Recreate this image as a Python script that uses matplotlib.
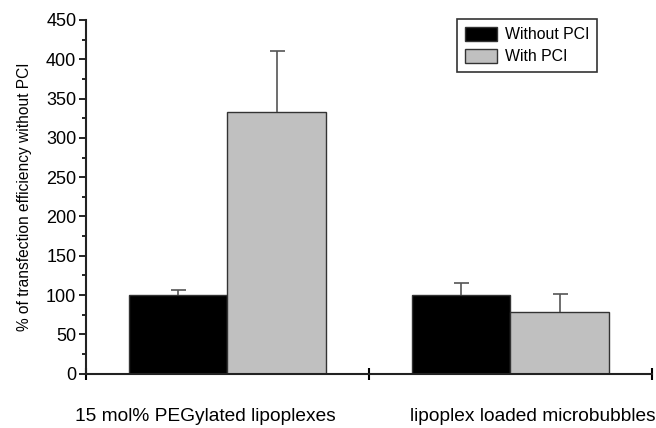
import numpy as np
import matplotlib.pyplot as plt
from matplotlib.ticker import MultipleLocator

plt.rcParams['font.family'] = ['Liberation Sans', 'DejaVu Sans']

# data
groups = ["15 mol% PEGylated lipoplexes", "lipoplex loaded microbubbles"]
without_pci = [100, 100]
without_err = [6, 16]
with_pci = [333, 79]
with_err = [77, 23]
series_names = ["Without PCI", "With PCI"]

fig = plt.figure(figsize=(6.56, 4.28), dpi=100)
ax = fig.add_axes([0.1311, 0.1269, 0.8623, 0.8264])

x = np.arange(len(groups))
w = 0.349
err_kw = dict(ecolor="#555555", elinewidth=1.2, capsize=5.4, capthick=1.2)

b1 = ax.bar(x - w / 2, without_pci, w, color="black", edgecolor="#333333", linewidth=1,
            yerr=[np.zeros(2), without_err], error_kw=err_kw, label=series_names[0])
b2 = ax.bar(x + w / 2, with_pci, w, color="#c0c0c0", edgecolor="#333333", linewidth=1,
            yerr=[np.zeros(2), with_err], error_kw=err_kw, label=series_names[1])
# only the upper cap is drawn in the original
for b in (b1, b2):
    caps = b.errorbar.lines[1]
    caps[0].set_visible(False)

ax.set_xlim(-0.5, 1.5)
ax.set_ylim(0, 450)
ax.spines["top"].set_visible(False)
ax.spines["right"].set_visible(False)
for s in ["left", "bottom"]:
    ax.spines[s].set_linewidth(1.5)
    ax.spines[s].set_color("#222222")

ax.yaxis.set_major_locator(MultipleLocator(50))
ax.yaxis.set_minor_locator(MultipleLocator(25))
ax.tick_params(axis="y", which="major", direction="out", length=5, width=1.2, labelsize=13, pad=2)
ax.tick_params(axis="y", which="minor", direction="out", length=3, width=1.2)
ax.set_xticks([-0.5, 0.5, 1.5])
ax.set_xticklabels([])
ax.tick_params(axis="x", which="major", direction="inout", length=8, width=1.5)

ax.set_ylabel("% of transfection efficiency without PCI", fontsize=11.2, labelpad=10)

# category labels, placed well below the axis as in the original
label_x = [-0.078, 1.078]
for lx, g in zip(label_x, groups):
    ax.text(lx, -0.122, g, transform=ax.get_xaxis_transform(), ha="center", va="center",
            fontsize=13.8)

leg = ax.legend(loc="upper left", bbox_to_anchor=(0.656, 1.003), borderaxespad=0,
                fontsize=11.4, frameon=True, fancybox=False, edgecolor="black",
                handlelength=2.0, handleheight=1.0, borderpad=0.5, labelspacing=0.4,
                handletextpad=0.5)
leg.get_frame().set_linewidth(1.2)

fig.savefig("out.png", dpi=100)
